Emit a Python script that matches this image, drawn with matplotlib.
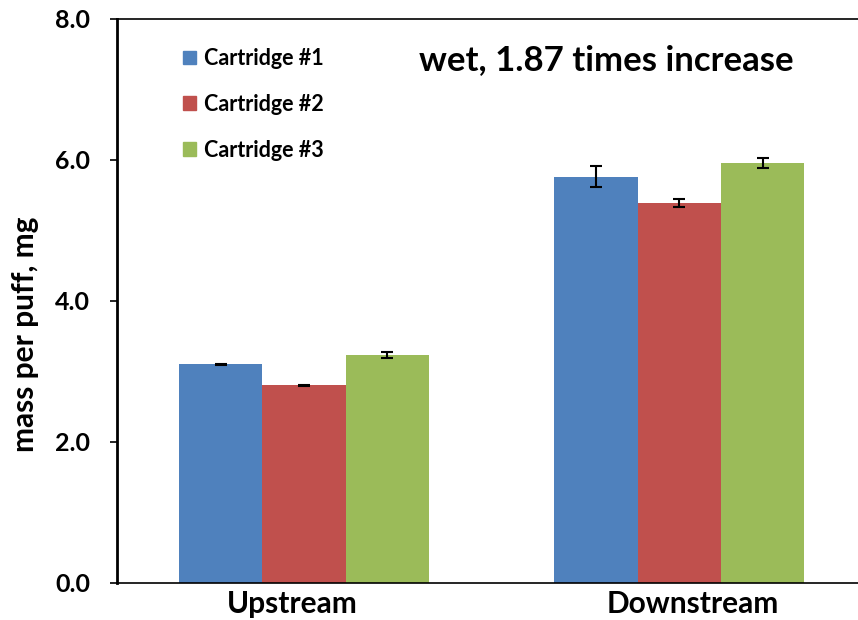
import matplotlib
matplotlib.use("Agg")
import matplotlib.pyplot as plt
import matplotlib.transforms as mtransforms
import numpy as np
from matplotlib.patches import Patch

categories = ["Upstream", "Downstream"]
series_names = ["Cartridge #1", "Cartridge #2", "Cartridge #3"]
cart1 = [3.10, 5.76]
cart2 = [2.80, 5.38]
cart3 = [3.23, 5.95]
err1 = [0.01, 0.15]
err2 = [0.01, 0.055]
err3 = [0.04, 0.07]
yticks = [0.0, 2.0, 4.0, 6.0, 8.0]
annotation = "wet, 1.87 times increase"

colors = ["#4F81BD", "#C0504D", "#9BBB59"]

plt.rcParams['font.family'] = ['Lato', 'DejaVu Sans']
plt.rcParams['font.weight'] = 'bold'

fig = plt.figure(figsize=(8.58, 6.2), dpi=100)
ax = fig.add_axes([116.5/858, 1-583/620, (867-116.5)/858, (583-18.5)/620])

x = np.arange(len(categories))
w = 0.222
vals = [cart1, cart2, cart3]
errs = [err1, err2, err3]
for i, (v, e, c, n) in enumerate(zip(vals, errs, colors, series_names)):
    ax.bar(x + (i-1)*w, v, width=w, color=c, label=n, zorder=2)
    ax.errorbar(x + (i-1)*w, v, yerr=e, fmt='none', ecolor='black',
                elinewidth=1.5, capsize=4, capthick=1.5, zorder=3)

ax.set_xlim(-0.5, 1.5)
ax.set_ylim(0, 8)
ax.set_yticks(yticks)
ax.set_yticklabels([f"{t:.1f}" for t in yticks], fontsize=18, fontweight='bold')
ax.set_xticks(x)
ax.set_xticklabels(categories, fontsize=21.5, fontweight='bold')
ax.tick_params(axis='x', length=0, pad=5)
ax.tick_params(axis='y', direction='out', length=5, width=1.2, pad=14)
# nudge category labels as in the original
for lbl, dx in zip(ax.get_xticklabels(), [-12, 13]):
    lbl.set_transform(lbl.get_transform() +
                      mtransforms.ScaledTranslation(dx/100, 0, fig.dpi_scale_trans))
ax.spines['right'].set_visible(False)
ax.spines['top'].set_linewidth(1.2)
ax.spines['left'].set_linewidth(2)
ax.spines['bottom'].set_linewidth(1.2)
ax.set_ylabel("mass per puff, mg", fontsize=21.5, fontweight='bold')
ax.yaxis.set_label_coords(-(116.5-39)/750.5, (583-334)/564.5)

ax.text((606-116.5)/750.5, (583-60)/564.5, annotation, transform=ax.transAxes, fontsize=25,
        fontweight='bold', ha='center', va='center')

handles = [Patch(color=c) for c in colors]
ax.legend(handles, series_names, loc='upper left', bbox_to_anchor=(0.063, 0.982),
          frameon=False, prop={'weight': 'bold', 'size': 15.5},
          handlelength=0.6, handleheight=0.6, labelspacing=1.15, handletextpad=0.35)

fig.savefig("out.png", dpi=100)
